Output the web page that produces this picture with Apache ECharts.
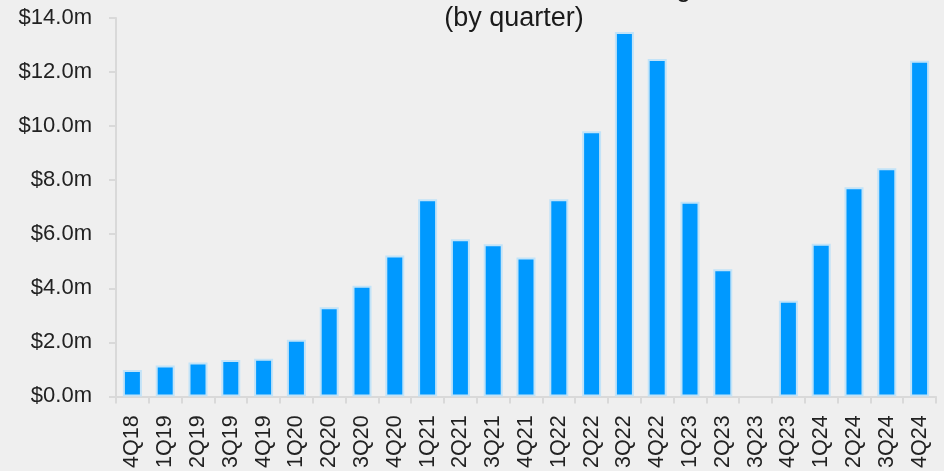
<!DOCTYPE html>
<html>
<head>
<meta charset="utf-8">
<script src="https://cdn.jsdelivr.net/npm/echarts@6/dist/echarts.min.js"></script>
<style>
html,body{margin:0;padding:0;background:#efefef;}
#chart{width:944px;height:471px;}
</style>
</head>
<body>
<div id="chart"></div>
<script>
var categories = ['4Q18','1Q19','2Q19','3Q19','4Q19','1Q20','2Q20','3Q20','4Q20','1Q21','2Q21','3Q21','4Q21','1Q22','2Q22','3Q22','4Q22','1Q23','2Q23','3Q23','4Q23','1Q24','2Q24','3Q24','4Q24'];
var funding = [0.98,1.14,1.25,1.35,1.39,2.10,3.30,4.09,5.21,7.29,5.81,5.63,5.14,7.29,9.81,13.48,12.48,7.20,4.70,0,3.54,5.65,7.74,8.44,12.42];
var titleLines = ['Total Amount of New Funding','(by quarter)'];

var chart = echarts.init(document.getElementById('chart'));
var font = '"Liberation Sans", Arial, sans-serif';
chart.setOption({
  backgroundColor: '#efefef',
  animation: false,
  title: {
    text: titleLines.join('\n'),
    left: 514,
    textAlign: 'center',
    top: -26,
    padding: 0,
    textStyle: {fontFamily: font, fontSize: 27, fontWeight: 'normal', color: '#1a1a1a', lineHeight: 30}
  },
  grid: {left: 116, right: 8, top: 18, bottom: 73.5, containLabel: false},
  xAxis: {
    type: 'category',
    data: categories,
    boundaryGap: true,
    axisLine: {lineStyle: {color: '#d9d9d9', width: 2}},
    axisTick: {show: true, alignWithLabel: false, length: 7, lineStyle: {color: '#d9d9d9', width: 2}},
    axisLabel: {rotate: 90, margin: 19, interval: 0, fontFamily: font, fontSize: 21.5, color: '#222'}
  },
  yAxis: {
    type: 'value',
    min: 0, max: 14, interval: 2,
    axisLine: {show: true, lineStyle: {color: '#d9d9d9', width: 2}},
    axisTick: {show: true, length: 7, lineStyle: {color: '#d9d9d9', width: 2}},
    splitLine: {show: false},
    axisLabel: {margin: 24, fontFamily: font, fontSize: 22, color: '#222',
      formatter: function(v){ return '$' + v.toFixed(1) + 'm'; }}
  },
  series: [{
    type: 'bar',
    data: funding.map(function(v){
      return v === 0 ? {value: v, itemStyle: {borderWidth: 0, opacity: 0}} : v;
    }),
    barWidth: 19,
    itemStyle: {color: '#0099ff', borderColor: '#c2e3f8', borderWidth: 2}
  }]
});
</script>
</body>
</html>
